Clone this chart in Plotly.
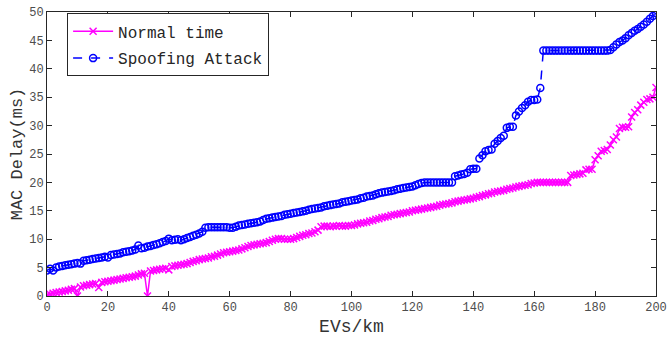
import plotly.graph_objects as go

evs_km = list(range(0, 201))

spoofing_attack = [
    4.5, 4.8, 4.5, 5.0, 5.2, 5.3, 5.4, 5.5, 5.6, 5.7,
    5.8, 5.7, 6.2, 6.3, 6.4, 6.5, 6.6, 6.7, 6.8, 6.9,
    6.8, 7.2, 7.3, 7.4, 7.5, 7.7, 7.8, 7.9, 8.0, 8.2,
    8.9, 8.4, 8.5, 8.7, 8.8, 9.0, 9.1, 9.3, 9.5, 9.7,
    10.1, 9.8, 9.9, 10.0, 9.8, 10.0, 10.2, 10.4, 10.6, 10.8,
    11.0, 11.3, 12.0, 12.1, 12.1, 12.1, 12.1, 12.1, 12.1, 12.1,
    12.0, 12.0, 12.2, 12.4, 12.5, 12.6, 12.7, 12.8, 12.9, 13.0,
    13.1, 13.4, 13.6, 13.7, 13.8, 13.9, 14.0, 14.1, 14.3, 14.4,
    14.5, 14.6, 14.7, 14.8, 14.9, 15.0, 15.2, 15.3, 15.4, 15.5,
    15.6, 15.8, 15.9, 16.0, 16.1, 16.2, 16.3, 16.5, 16.6, 16.7,
    16.8, 16.9, 17.0, 17.2, 17.3, 17.5, 17.6, 17.7, 17.9, 18.1,
    18.2, 18.3, 18.4, 18.5, 18.6, 18.8, 18.9, 19.0, 19.1, 19.2,
    19.3, 19.5, 19.7, 19.9, 20.0, 20.0, 20.0, 20.0, 20.0, 20.0,
    20.0, 20.0, 20.0, 20.0, 21.1, 21.2, 21.4, 21.5, 21.7, 22.3,
    22.4, 22.4, 24.2, 24.8, 25.5, 25.7, 25.8, 26.8, 27.3, 27.8,
    28.2, 29.6, 29.8, 29.8, 31.8, 32.5, 33.1, 33.6, 34.2, 34.5,
    34.5, 34.6, 36.6, 43.2, 43.2, 43.2, 43.2, 43.2, 43.2, 43.2,
    43.2, 43.2, 43.2, 43.2, 43.2, 43.2, 43.2, 43.2, 43.2, 43.2,
    43.2, 43.2, 43.2, 43.2, 43.2, 43.3, 43.8, 44.3, 44.7, 45.0,
    45.4, 45.9, 46.3, 46.7, 47.0, 47.4, 47.8, 48.3, 48.8, 49.3,
    49.8,
]

normal_time = [
    0.2, 0.3, 0.5, 0.6, 0.7, 0.8, 0.9, 1.0, 1.2, 1.3,
    0.0, 1.6, 1.8, 1.9, 2.0, 2.1, 2.2, 1.5, 2.4, 2.5,
    2.6, 2.7, 2.8, 2.9, 3.0, 3.1, 3.2, 3.3, 3.4, 3.5,
    3.7, 3.9, 4.0, 0.0, 4.4, 4.5, 4.6, 4.7, 4.8, 4.9,
    4.6, 5.2, 5.3, 5.4, 5.5, 5.6, 5.7, 5.9, 6.1, 6.2,
    6.4, 6.5, 6.6, 6.7, 6.9, 7.0, 7.2, 7.4, 7.6, 7.7,
    7.8, 7.9, 8.0, 8.1, 8.3, 8.5, 8.7, 8.9, 9.0, 9.1,
    9.2, 9.3, 9.4, 9.6, 9.8, 10.0, 10.1, 10.1, 10.0, 10.0,
    10.0, 10.1, 10.3, 10.5, 10.7, 10.8, 11.0, 11.1, 11.3, 11.6,
    12.2, 12.3, 12.3, 12.2, 12.3, 12.3, 12.4, 12.3, 12.3, 12.4,
    12.4, 12.5, 12.7, 12.8, 12.9, 13.0, 13.2, 13.3, 13.5, 13.6,
    13.8, 13.9, 14.0, 14.2, 14.3, 14.4, 14.5, 14.6, 14.7, 14.8,
    15.0, 15.1, 15.2, 15.3, 15.4, 15.5, 15.6, 15.7, 15.8, 16.0,
    16.1, 16.2, 16.3, 16.4, 16.6, 16.7, 16.8, 16.9, 17.0, 17.1,
    17.2, 17.4, 17.5, 17.7, 17.8, 18.0, 18.1, 18.3, 18.4, 18.5,
    18.6, 18.8, 18.9, 19.0, 19.2, 19.3, 19.4, 19.5, 19.6, 19.8,
    19.9, 20.0, 20.0, 20.0, 20.0, 20.0, 20.0, 20.0, 20.0, 20.0,
    20.0, 20.0, 21.2, 21.3, 21.4, 21.5, 21.6, 22.2, 22.3, 22.3,
    24.0, 24.7, 25.5, 25.6, 25.8, 26.6, 27.5, 28.0, 29.5, 29.7,
    29.7, 29.8, 31.5, 32.3, 32.8, 33.6, 34.1, 34.6, 34.7, 35.0,
    36.7,
]

x_ticks = [0, 20, 40, 60, 80, 100, 120, 140, 160, 180, 200]
y_ticks = [0, 5, 10, 15, 20, 25, 30, 35, 40, 45, 50]

FONT = "Liberation Mono, Courier New, monospace"

fig = go.Figure()
fig.add_trace(go.Scatter(
    x=evs_km, y=normal_time, name="Normal time",
    mode="lines+markers", legendgroup="a",
    line=dict(color="#FF00FF", width=1.5),
    marker=dict(symbol="x-thin", size=7, line=dict(color="#FF00FF", width=1.5)),
))
fig.add_trace(go.Scatter(
    x=evs_km, y=spoofing_attack, name="Spoofing Attack",
    mode="lines+markers", legendgroup="b",
    line=dict(color="#0000FF", width=1.5, dash="dash"),
    marker=dict(symbol="circle-open", size=7, color="#0000FF", line=dict(width=1.5)),
))

axis_common = dict(
    showline=True, linecolor="#262626", linewidth=1, mirror="ticks",
    ticks="inside", ticklen=5, tickwidth=1, tickcolor="#262626",
    showgrid=False, zeroline=False, automargin=False,
    ticklabeloverflow="allow",
    tickfont=dict(family=FONT, size=12, color="#4d4d4d"),
)

fig.update_layout(
    width=668, height=339,
    margin=dict(l=47, r=12, t=12, b=43),
    paper_bgcolor="white", plot_bgcolor="white",
    font=dict(family=FONT, color="#262626"),
    showlegend=True,
    legend=dict(
        x=0.033, y=0.995, xanchor="left", yanchor="top",
        bgcolor="white", bordercolor="#262626", borderwidth=1,
        font=dict(family=FONT, size=16, color="#262626"),
        itemwidth=40, traceorder="grouped", tracegroupgap=3,
    ),
    xaxis=dict(
        range=[0, 200], tickvals=x_ticks,
        title=dict(text="EVs/km", font=dict(family=FONT, size=18, color="#333333"), standoff=4),
        **axis_common,
    ),
    yaxis=dict(
        range=[0, 50], tickvals=y_ticks,
        title=dict(text="MAC Delay(ms)", font=dict(family=FONT, size=17, color="#333333"), standoff=2),
        **axis_common,
    ),
)

fig.write_html(
    "out.html",
    config={"displayModeBar": False},
    post_script="document.body.style.margin='0';",
)
